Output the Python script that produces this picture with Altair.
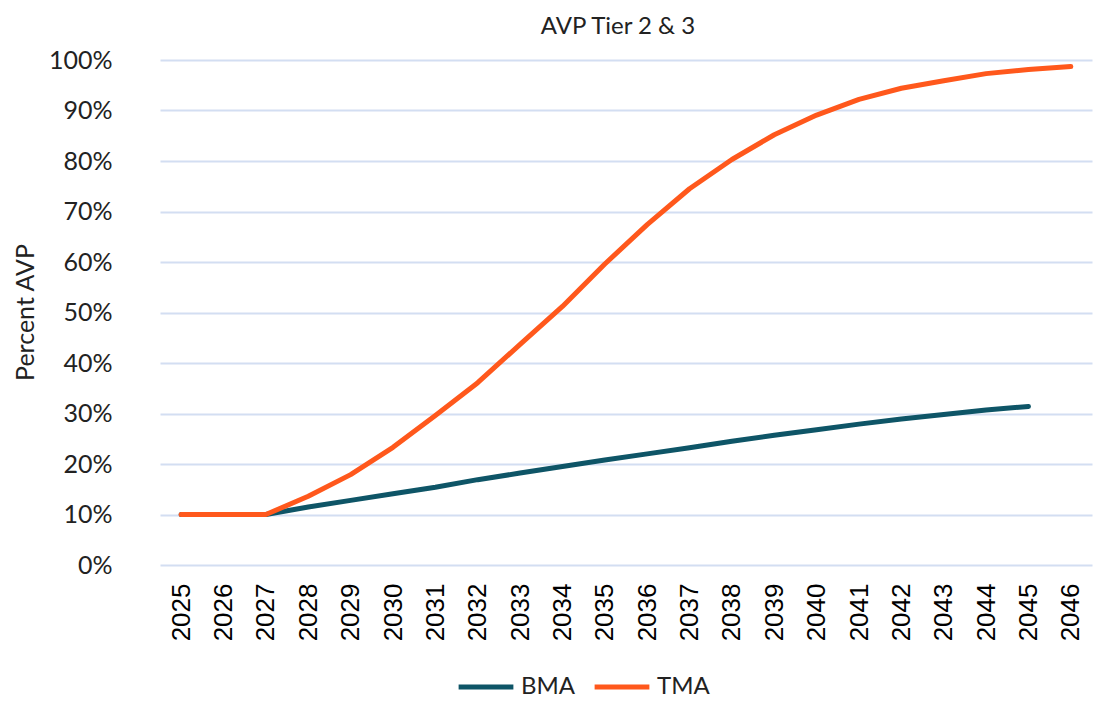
import altair as alt
import pandas as pd

years = [str(y) for y in range(2025, 2047)]
bma = [10, 10, 10, 11.5, 12.8, 14.1, 15.4, 16.9, 18.2, 19.5, 20.8, 22.0, 23.2, 24.5,
       25.7, 26.8, 27.9, 28.9, 29.8, 30.7, 31.4, None]
tma = [10, 10, 10, 13.6, 17.9, 23.3, 29.6, 36.1, 43.7, 51.2, 59.6, 67.4, 74.5, 80.3,
       85.2, 89.1, 92.2, 94.4, 95.9, 97.3, 98.1, 98.7]
series = ["BMA", "TMA"]
colors = ["#0e5567", "#ff581c"]

rows = []
for name, vals in zip(series, [bma, tma]):
    for y, v in zip(years, vals):
        if v is not None:
            rows.append({"Year": y, "Series": name, "Value": v / 100.0})
df = pd.DataFrame(rows)

chart = alt.Chart(df).mark_line(strokeWidth=5, strokeCap="round", strokeJoin="round").encode(
    x=alt.X("Year:O", sort=years,
            scale=alt.Scale(type="point", range=[21, 953]),
            axis=alt.Axis(title=None, labelAngle=-90, labelFont="Liberation Sans",
                          labelFontSize=26, labelColor="#000000", ticks=False,
                          domain=False, grid=False, labelPadding=18)),
    y=alt.Y("Value:Q", scale=alt.Scale(domain=[0, 1], nice=False),
            axis=alt.Axis(title="Percent AVP", format=".0%", values=[i / 10 for i in range(11)],
                          labelFont="Lato", labelFontSize=25, labelColor="#222222",
                          titleFont="Lato", titleFontSize=25, titleFontWeight="normal",
                          titleColor="#222222", titleX=-114, titleY=252,
                          titleAngle=270, titleAlign="center", titleBaseline="middle",
                          ticks=False, domain=False, labelPadding=27,
                          gridColor="#d3def2", gridWidth=2)),
    color=alt.Color("Series:N", scale=alt.Scale(domain=series, range=colors),
                    legend=alt.Legend(title=None, orient="none", direction="horizontal",
                                      legendX=317, legendY=597,
                                      symbolType="stroke", symbolSize=3000,
                                      symbolStrokeWidth=5, labelFont="Lato",
                                      labelFontSize=24, labelColor="#222222",
                                      columnPadding=8, labelOffset=5)),
).properties(
    width=958, height=505,
    title=alt.TitleParams("AVP Tier 2 & 3", font="Lato", fontSize=24, fontWeight="normal",
                          color="#222222", anchor="middle", offset=9),
    autosize=alt.AutoSizeParams(type="none"),
    padding={"left": 131, "top": 52, "right": 0, "bottom": 136},
).configure_view(stroke=None)

chart.save("out.html", embed_options={"renderer": "svg", "actions": False})
